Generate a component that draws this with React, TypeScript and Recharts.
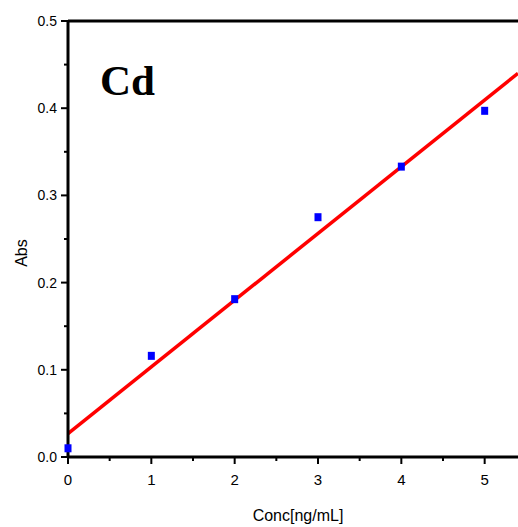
import React from 'react'
import {
  ComposedChart,
  Line,
  Scatter,
  XAxis,
  YAxis,
  ReferenceLine,
} from 'recharts'

// Measured standards (Cd calibration)
const concValues = [0, 1, 2, 3, 4, 5]
const absValues  = [0.010, 0.116, 0.181, 0.275, 0.333, 0.397]

// Linear fit line endpoints
const fitConc = [0, 5.4]
const fitAbs  = [0.0268, 0.440]

const xTicks = [0, 0.5, 1, 1.5, 2, 2.5, 3, 3.5, 4, 4.5, 5]
const yTicks = [0, 0.05, 0.1, 0.15, 0.2, 0.25, 0.3, 0.35, 0.4, 0.45, 0.5]

const points  = concValues.map((c, i) => ({ x: c, y: absValues[i] }))
const fitLine = fitConc.map((c, i) => ({ x: c, y: fitAbs[i] }))

const FONT = '"Liberation Sans", Arial, sans-serif'

// x axis: integer ticks get a label, half steps are minor
function XTick({ x, y, payload }: any) {
  const v = payload.value as number
  const major = Number.isInteger(v)
  return (
    <g>
      <line x1={x} x2={x} y1={y} y2={y + (major ? 7 : 4)} stroke="#000" strokeWidth={2} />
      {major && (
        <text x={x} y={y + 28} textAnchor="middle" fontSize={15} fontFamily={FONT} fill="#000">
          {v}
        </text>
      )}
    </g>
  )
}

// y axis: labelled every 0.1, minor at 0.05
function YTick({ x, y, payload }: any) {
  const v = payload.value as number
  const major = Math.abs(v * 10 - Math.round(v * 10)) < 1e-6
  return (
    <g>
      <line x1={x} x2={x - (major ? 7 : 4)} y1={y} y2={y} stroke="#000" strokeWidth={2} />
      {major && (
        <text x={x - 11} y={y + 5} textAnchor="end" fontSize={14} fontFamily={FONT} fill="#000">
          {v.toFixed(1)}
        </text>
      )}
    </g>
  )
}

function SquareDot({ cx, cy }: any) {
  return <rect x={cx - 3.5} y={cy - 4} width={7} height={8} fill="#0000ff" />
}

export default function App() {
  return (
    <div style={{ position: 'fixed', left: 0, top: 0, width: 518, height: 527, background: '#fff' }}>
      <ComposedChart
        width={518}
        height={527}
        margin={{ top: 21, right: 0, bottom: 0, left: 0 }}
      >
        <XAxis
          type="number"
          dataKey="x"
          domain={[0, 5.4]}
          ticks={xTicks}
          interval={0}
          height={70}
          tickSize={0}
          tickMargin={0}
          tick={<XTick />}
          axisLine={{ stroke: '#000', strokeWidth: 3 }}
          tickLine={false}
        />
        <YAxis
          type="number"
          dataKey="y"
          domain={[0, 0.5]}
          ticks={yTicks}
          interval={0}
          width={68}
          tickSize={0}
          tickMargin={0}
          tick={<YTick />}
          axisLine={{ stroke: '#000', strokeWidth: 3 }}
          tickLine={false}
        />
        <ReferenceLine y={0.5} stroke="#000" strokeWidth={3} />
        <Line
          data={fitLine}
          dataKey="y"
          type="linear"
          stroke="#ff0000"
          strokeWidth={3.5}
          dot={false}
          activeDot={false}
          isAnimationActive={false}
        />
        <Scatter
          data={points}
          dataKey="y"
          fill="#0000ff"
          shape={<SquareDot />}
          isAnimationActive={false}
        />
        <text x={21} y={253} transform="rotate(-90 21 253)" textAnchor="middle"
          dominantBaseline="central" fontSize={16} fontFamily={FONT} fill="#000">
          Abs
        </text>
        <text x={298} y={521} textAnchor="middle" fontSize={16} fontFamily={FONT} fill="#000">
          Conc[ng/mL]
        </text>
        <text x={100} y={95} fontSize={43} fontWeight="bold"
          fontFamily='"Liberation Serif", "Times New Roman", serif' fill="#000">
          Cd
        </text>
      </ComposedChart>
    </div>
  )
}
